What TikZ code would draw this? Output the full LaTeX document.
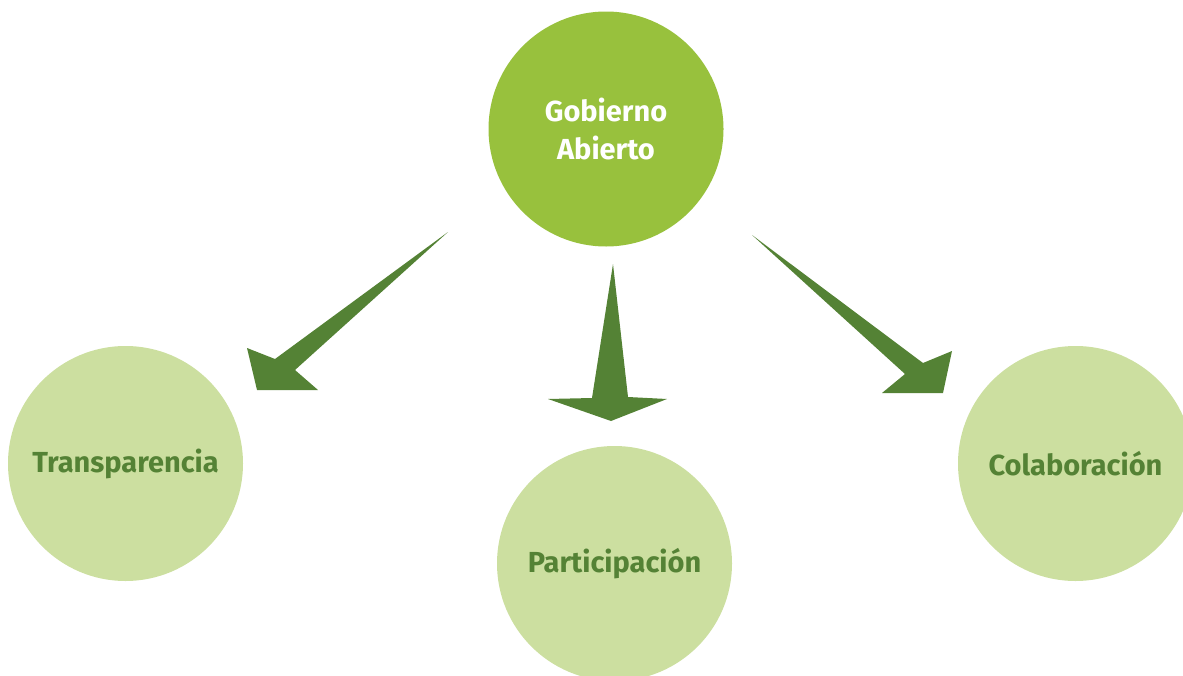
\documentclass[tikz,border=0pt]{standalone}
\usepackage{fontspec}
\setmainfont{Fira Sans}
\usepackage{tikz}
\usetikzlibrary{positioning}

\definecolor{verdeclaro}{HTML}{98C13D}
\definecolor{verdepalido}{HTML}{CCDFA0}
\definecolor{verdeoscuro}{HTML}{548235}

\tikzset{
  principal/.style={circle, fill=verdeclaro, minimum size=235*0.02cm, inner sep=0pt,
    text=white, font=\bfseries\fontsize{16.5}{21.5}\selectfont, align=center},
  pilar/.style={circle, fill=verdepalido, minimum size=235*0.02cm, inner sep=0pt,
    text=verdeoscuro, font=\bfseries\fontsize{16.5}{21.5}\selectfont, align=center},
  flecha/.style={fill=verdeoscuro, draw=none}
}

\begin{document}
\begin{tikzpicture}[x=0.02cm,y=-0.02cm]
                \useasboundingbox (0,0) rectangle (1183,676);
                \clip (0,0) rectangle (1183,676);
                \node[principal] (gobierno) at (606,129) {Gobierno\\Abierto};
                \node[pilar] (transparencia) at (125.5,463.5) {Transparencia};
                \node[pilar] (participacion) at (614.5,563.5) {Participación};
                \node[pilar] (colaboracion) at (1075.5,463.5) {Colaboración};
                % flechas
                \fill[flecha] (448,232) -- (275,359) -- (247,348) -- (257,390) -- (318,390) -- (295,370) -- cycle;
                \fill[flecha] (613,264) -- (628,397) -- (667,399) -- (611,421) -- (548,399) -- (592,398) -- cycle;
                \fill[flecha] (752,235) -- (923,363) -- (952,351) -- (943,393) -- (882,393) -- (905,374) -- cycle;
            \end{tikzpicture}
\end{document}
